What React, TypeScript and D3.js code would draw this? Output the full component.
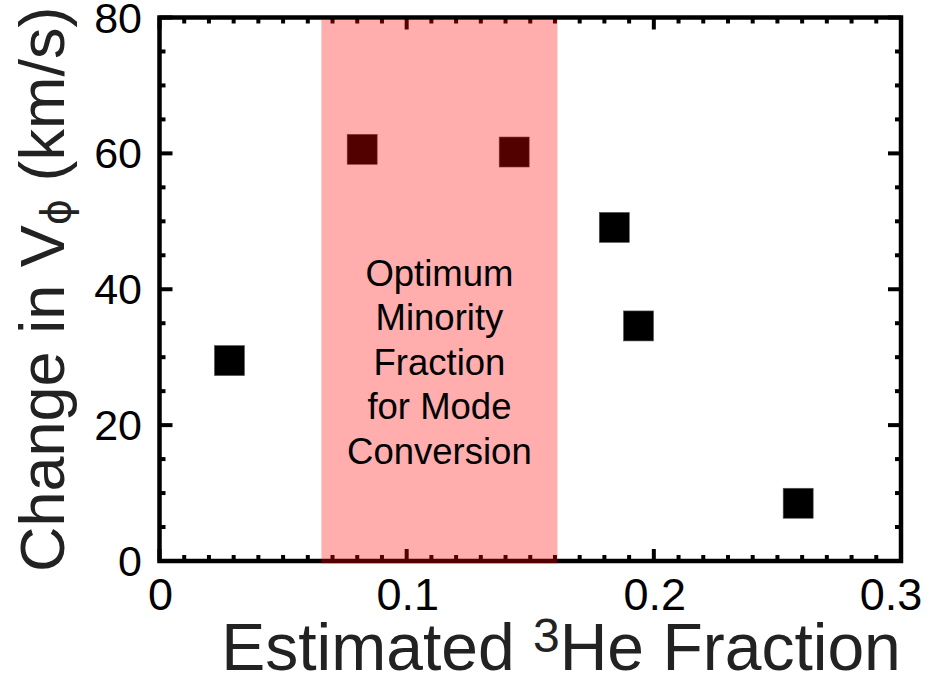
import React from "react";
import * as d3 from "d3";

const xValues = [0.0283, 0.082, 0.1435, 0.184, 0.1938, 0.2584];
const yValues = [29.5, 60.6, 60.2, 49.1, 34.6, 8.5];
const xTickLabels = ["0", "0.1", "0.2", "0.3"];
const xTicks = [0, 0.1, 0.2, 0.3];
const yTicks = [0, 20, 40, 60, 80];
const yTickLabels = ["0", "20", "40", "60", "80"];
const bandRange = [0.0655, 0.161];
const bandLines = ["Optimum", "Minority", "Fraction", "for Mode", "Conversion"];

const W = 929;
const H = 680;
const L = 159.5, R = 901, T = 17.5, B = 561;

export default function App() {
  const x = d3.scaleLinear().domain([0, 0.3]).range([L, R]);
  const y = d3.scaleLinear().domain([0, 80]).range([B, T]);
  const xMinor = d3.range(0, 0.3001, 0.01);
  const yMinor = d3.range(0, 80.001, 5);
  const font = "'Liberation Sans', Arial, sans-serif";
  const sq = 30;
  const isMajorX = (v: number) => Math.abs(v * 10 - Math.round(v * 10)) < 1e-6;
  const isMajorY = (v: number) => Math.abs(v / 20 - Math.round(v / 20)) < 1e-6;

  return (
    <svg width={W} height={H} style={{ position: "absolute", left: 0, top: 0, background: "#fff" }} fontFamily={font}>
      {xValues.map((xv, i) => (
        <rect key={i} x={x(xv) - sq / 2} y={y(yValues[i]) - sq / 2} width={sq} height={sq} fill="#000" stroke="#555" strokeWidth={0.6} />
      ))}
      <rect x={L} y={T} width={R - L} height={B - T} fill="none" stroke="#000" strokeWidth={4.5} />
      {xMinor.map((v, i) => {
        const len = isMajorX(v) ? 12 : 6;
        return (
          <g key={"xt" + i} stroke="#000" strokeWidth={4}>
            <line x1={x(v)} x2={x(v)} y1={B} y2={B - len} />
            <line x1={x(v)} x2={x(v)} y1={T} y2={T + len} />
          </g>
        );
      })}
      {yMinor.map((v, i) => {
        const len = isMajorY(v) ? 13 : 6;
        return (
          <g key={"yt" + i} stroke="#000" strokeWidth={4}>
            <line x1={L} x2={L + len} y1={y(v)} y2={y(v)} />
            <line x1={R} x2={R - len} y1={y(v)} y2={y(v)} />
          </g>
        );
      })}
      <rect x={x(bandRange[0])} y={T + 2.5} width={x(bandRange[1]) - x(bandRange[0])} height={B - T} fill="#ff0000" opacity={0.32} />
      <g fontSize={36.5} textAnchor="middle" fill="#000">
        {bandLines.map((s, i) => (
          <text key={i} x={(x(bandRange[0]) + x(bandRange[1])) / 2} y={y(40.5) + i * 44.5}>{s}</text>
        ))}
      </g>
      <g fontSize={45} fill="#000">
        {xTicks.map((v, i) => (
          <text key={i} x={x(v) + (i === xTicks.length - 1 ? -10 : 1)} y={610} textAnchor="middle">{xTickLabels[i]}</text>
        ))}
      </g>
      <g fontSize={43} fill="#000">
        {yTicks.map((v, i) => (
          <text key={i} x={142} y={y(v)} dy="0.35em" textAnchor="end">{yTickLabels[i]}</text>
        ))}
      </g>
      <text x={561} y={670} textAnchor="middle" fontSize={66} fill="#222">
        Estimated <tspan fontSize={48} dy={-18}>3</tspan><tspan dy={18}>He Fraction</tspan>
      </text>
      <text transform={`translate(64, ${(T + B) / 2}) rotate(-90)`} textAnchor="middle" fontSize={63} fill="#222">
        Change in V<tspan fontFamily="'DejaVu Sans', sans-serif" fontSize={40} dy={6}>ϕ</tspan><tspan dy={-6}> (km/s)</tspan>
      </text>
    </svg>
  );
}
